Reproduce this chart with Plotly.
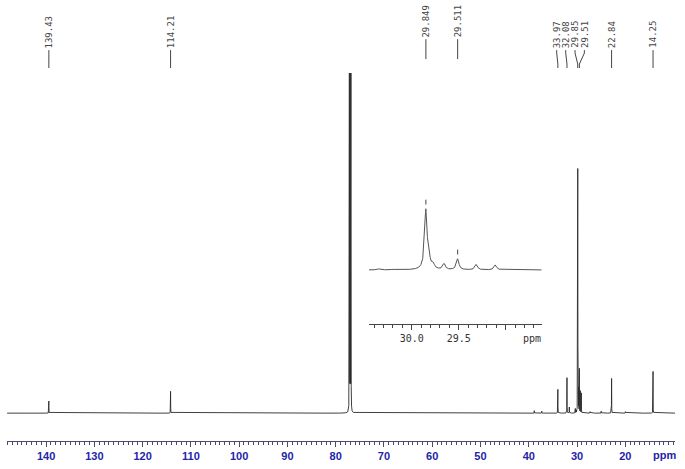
import numpy as np
import plotly.graph_objects as go

# ---------------- data ----------------
# peak positions (ppm) and relative intensities (29.849 ppm line = ~100)
peak_ppm = [139.43, 114.21, 77.16, 77.00, 76.84, 38.85, 37.30, 33.97, 32.08, 31.60,
            30.35, 30.20, 29.849, 29.815, 29.772, 29.656, 29.511, 29.313, 29.110,
            27.30, 24.99, 22.84, 19.98, 14.25]
peak_int = [5.0, 9.0, 150, 150, 148, 1.0, 0.8, 9.8, 14.6, 2.5,
            1.8, 1.0, 98, 13, 8, 9.8, 18, 9, 8.2,
            0.6, 0.8, 14.3, 0.6, 17.2]
LINE_HWHM = 0.016  # ppm, line half-width

# main axis tick labels
main_ticks = [140, 130, 120, 110, 100, 90, 80, 70, 60, 50, 40, 30, 20]
# inset axis ticks
inset_ticks = [30.0, 29.5, 29.0]
inset_ticktext = ["30.0", "29.5", ""]

# peak-pick labels on top
top_labels = ["139.43", "114.21", "33.97", "32.08", "29.85", "29.51", "22.84", "14.25"]
top_label_peak = [139.43, 114.21, 33.97, 32.08, 29.85, 29.51, 22.84, 14.25]
inset_labels = ["29.849", "29.511"]
inset_label_peak = [29.849, 29.511]

# ---------------- layout constants ----------------
W, H = 685, 469
# plot area in window pixels: x 7..675, y 73..443
ML, MR, MT, MB = 7, 10, 73, 26
PW, PH = W - ML - MR, H - MT - MB
X_RANGE = [148.1, 9.7]
Y_RANGE = [-11.475, 140.16]
INSET_X_RANGE = [30.454, 28.617]
INSET_Y_RANGE = [-88.5, 124.6]
# label text positions (ppm) after spreading crowded labels
top_label_text_ppm = [139.43, 114.21, 34.21, 32.34, 30.41, 28.48, 22.84, 14.25]


def py2paper(py):
    return (H - MB - py) / PH


def px2paper(px):
    return (px - ML) / PW


P = np.array(peak_ppm)
I = np.array(peak_int)


def spectrum(x):
    x = np.asarray(x)[:, None]
    return (I[None, :] / (1.0 + ((x - P[None, :]) / LINE_HWHM) ** 2)).sum(axis=1)


grid = [np.arange(X_RANGE[1], X_RANGE[0], 0.02)]
for p in peak_ppm:
    grid.append(np.arange(p - 0.3, p + 0.3, 0.002))
    grid.append(np.array([p]))
xs = np.unique(np.concatenate(grid))
ys = spectrum(xs)

xi = np.arange(INSET_X_RANGE[1], INSET_X_RANGE[0], 0.001)
xi = np.unique(np.concatenate([xi, P[(P > INSET_X_RANGE[1]) & (P < INSET_X_RANGE[0])]]))
yi = spectrum(xi)

fig = go.Figure()
fig.add_trace(go.Scatter(x=xs, y=ys, mode="lines", line=dict(color="#2a2a2a", width=0.9),
                         hoverinfo="skip", showlegend=False))
fig.add_trace(go.Scatter(x=xi, y=yi, mode="lines", line=dict(color="#555555", width=1),
                         xaxis="x2", yaxis="y2", hoverinfo="skip", showlegend=False))

blue = "#2424a6"
fig.update_layout(
    width=W, height=H,
    margin=dict(l=ML, r=MR, t=MT, b=MB, pad=0),
    paper_bgcolor="white", plot_bgcolor="white",
    showlegend=False,
    xaxis=dict(range=X_RANGE, showgrid=False, zeroline=False,
               showline=True, linecolor="#4b4b70", linewidth=1,
               ticks="outside", ticklen=5, tickwidth=1, tickcolor="#4b4b70",
               tickmode="array", tickvals=main_ticks, ticktext=[str(t) for t in main_ticks],
               tickfont=dict(family="Liberation Sans", size=11, color=blue, weight="bold"),
               minor=dict(dtick=1, tick0=0, ticks="outside", ticklen=3, tickcolor="#4b4b70", tickwidth=1),
               fixedrange=True),
    yaxis=dict(range=Y_RANGE, visible=False, fixedrange=True),
    xaxis2=dict(domain=[px2paper(369), px2paper(541.7)], anchor="y2", range=INSET_X_RANGE,
                showgrid=False, zeroline=False, showline=True, linecolor="#444444", linewidth=1,
                ticks="outside", ticklen=5, tickcolor="#444444",
                tickmode="array", tickvals=inset_ticks, ticktext=inset_ticktext,
                tickfont=dict(family="DejaVu Sans Mono", size=10, color="#333333"),
                minor=dict(dtick=0.1, tick0=0, ticks="outside", ticklen=3, tickcolor="#444444"),
                fixedrange=True),
    yaxis2=dict(domain=[py2paper(325), py2paper(195)], anchor="x2", range=INSET_Y_RANGE,
                visible=False, fixedrange=True),
)

annotations = []
shapes = []
label_font = dict(family="DejaVu Sans Mono", size=9, color="#444444")

for txt, pk, tx in zip(top_labels, top_label_peak, top_label_text_ppm):
    annotations.append(dict(x=tx, y=py2paper(49), xref="x", yref="paper", text=txt,
                            textangle=-90, showarrow=False, xanchor="center", yanchor="bottom",
                            font=label_font, borderpad=0))
    path = "M {a},{y0} L {a},{y1} L {b},{y2} L {b},{y3}".format(
        a=tx, b=pk, y0=py2paper(50), y1=py2paper(53), y2=py2paper(64), y3=py2paper(68))
    shapes.append(dict(type="path", path=path, xref="x", yref="paper",
                       line=dict(color="#444444", width=1)))

for txt, pk in zip(inset_labels, inset_label_peak):
    annotations.append(dict(x=pk, y=py2paper(38), xref="x2", yref="paper", text=txt,
                            textangle=-90, showarrow=False, xanchor="center", yanchor="bottom",
                            font=label_font, borderpad=0))
    shapes.append(dict(type="line", x0=pk, x1=pk, y0=py2paper(39), y1=py2paper(59),
                       xref="x2", yref="paper", line=dict(color="#444444", width=1)))
    top = float(spectrum([pk])[0])
    shapes.append(dict(type="line", x0=pk, x1=pk, y0=top + 7, y1=top + 15,
                       xref="x2", yref="y2", line=dict(color="#444444", width=1)))

annotations.append(dict(x=px2paper(664), y=py2paper(457), xref="paper", yref="paper", text="ppm",
                        showarrow=False, xanchor="center", yanchor="middle",
                        font=dict(family="Liberation Sans", size=11, color=blue, weight="bold")))
annotations.append(dict(x=28.723, y=py2paper(340), xref="x2", yref="paper", text="ppm",
                        showarrow=False, xanchor="center", yanchor="middle",
                        font=dict(family="DejaVu Sans Mono", size=10, color="#333333")))

fig.update_layout(annotations=annotations, shapes=shapes)
# remove the page's default body margin so the figure fills the window exactly
fig.write_html("out.html", config={"displayModeBar": False},
               post_script="document.body.style.margin='0';")
